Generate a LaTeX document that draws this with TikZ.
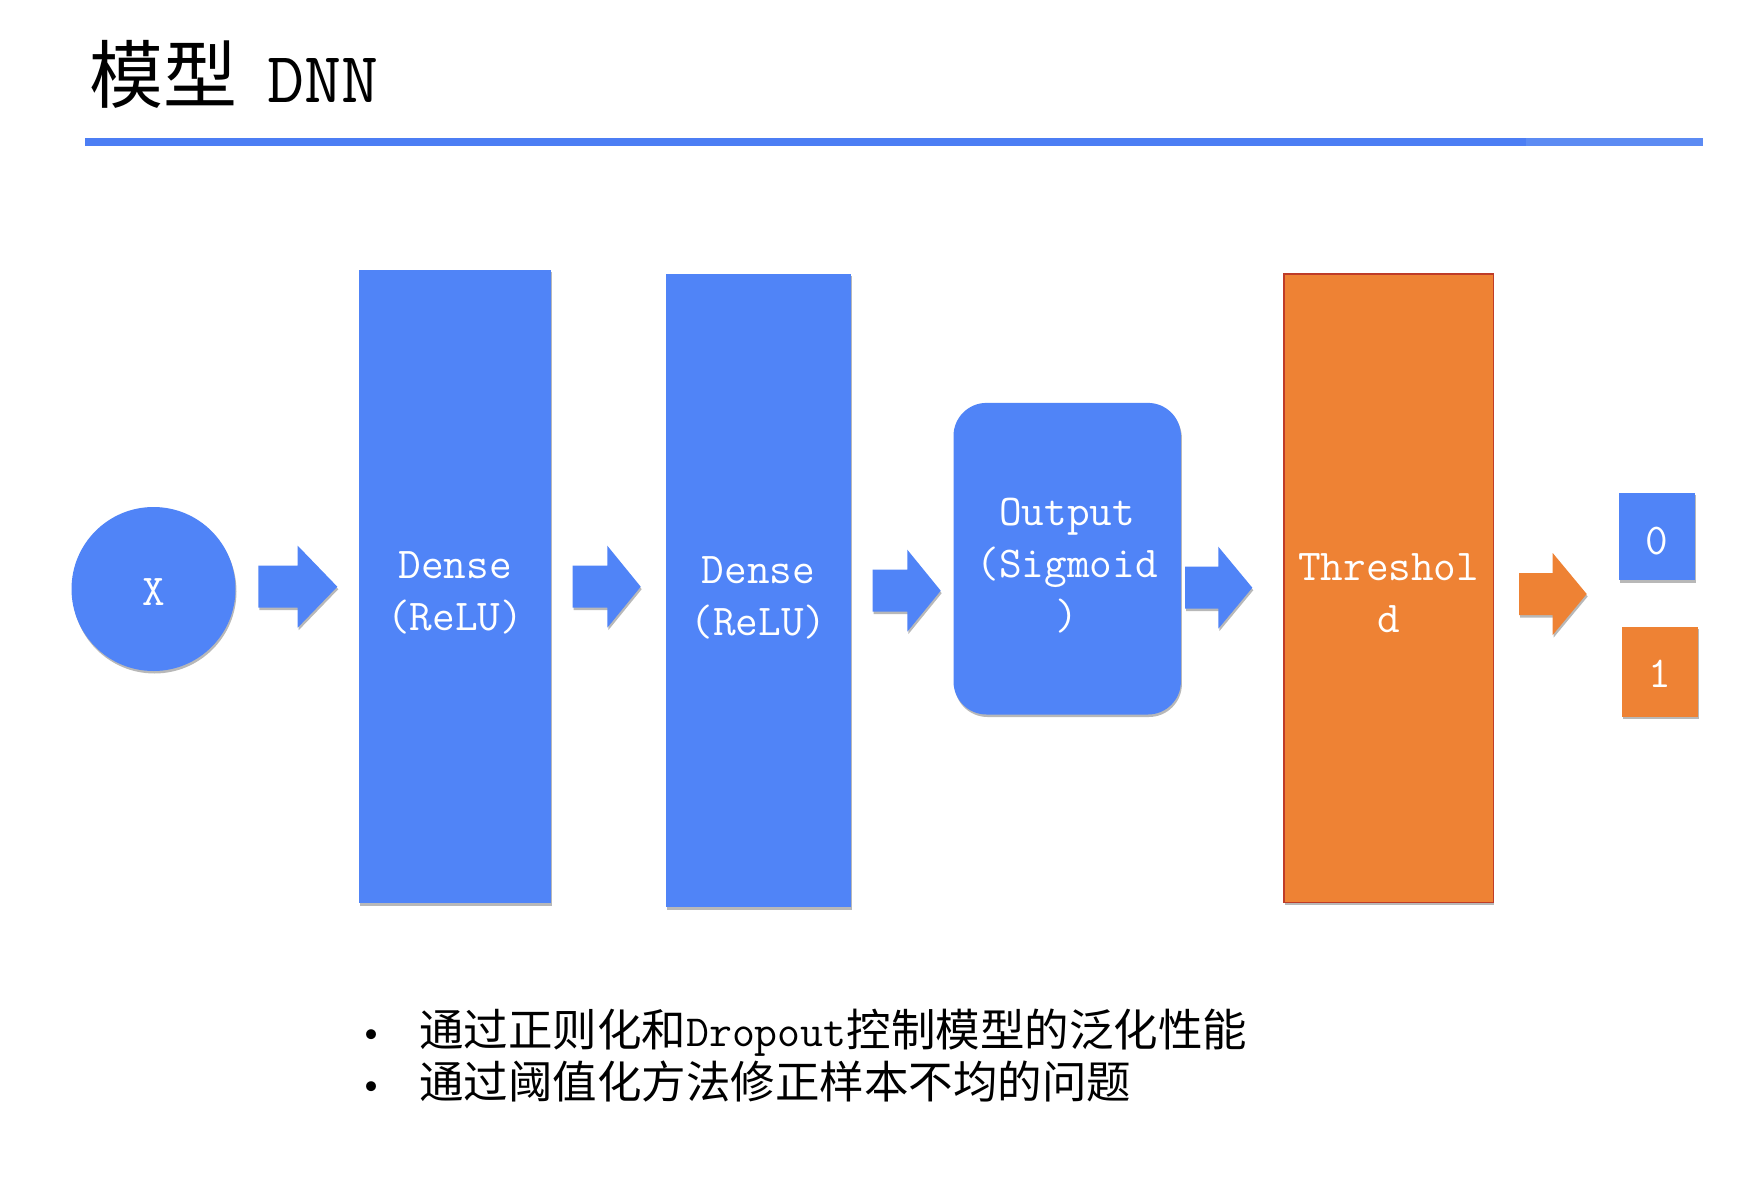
\documentclass[tikz,border=0pt]{standalone}
\usepackage{fontspec}
\newfontfamily\cjk{Noto Sans CJK SC}
\setmonofont{Latin Modern Mono}
\usetikzlibrary{shadows}
\definecolor{pblue}{RGB}{80,132,247}
\definecolor{porange}{RGB}{238,130,52}
\definecolor{pred}{RGB}{190,60,40}
\definecolor{lineblueA}{RGB}{76,126,244}
\definecolor{lineblueB}{RGB}{92,139,243}
\tikzset{
  shad/.style={drop shadow={shadow xshift=1pt,shadow yshift=-2.5pt,fill=black,opacity=0.28}},
  bluebox/.style={fill=pblue,draw=none,inner sep=0pt,shad},
  orangebox/.style={fill=porange,draw=none,inner sep=0pt,shad},
  boxtext/.style={text=white,font=\ttfamily\fontsize{44}{52}\selectfont,align=center,inner sep=0pt},
  bullettext/.style={anchor=base west,inner sep=0pt,font=\fontsize{44.5}{52}\selectfont}
}
\newcommand\blockarr[5]{\fill[#5,shad] (#1,#4-21) -- (#2,#4-21) -- (#2,#4-41) -- (#3,#4) -- (#2,#4+41) -- (#2,#4+21) -- (#1,#4+21) -- cycle;}
\begin{document}
\begin{tikzpicture}[x=1pt,y=-1pt]
\useasboundingbox[fill=white] (0,0) rectangle (1738,1180);
% title
\node[anchor=base west,inner sep=0pt] (title) at (89,103)
  {{\cjk\fontsize{74}{74}\selectfont 模型}\hspace{30pt}{\ttfamily\fontsize{72}{72}\selectfont DNN}};
\draw[line width=8pt,lineblueA] (85,141.7) -- (1526,141.7);
\draw[line width=8pt,lineblueB] (1526,141.7) -- (1703,141.7);
% nodes
\node[bluebox,circle,minimum size=164pt,
  label={[boxtext,yshift=-3pt]center:X}] (x) at (153.5,589) {};
\node[bluebox,anchor=north west,minimum width=191.7pt,minimum height=633.7pt,
  label={[boxtext,yshift=-7pt]center:{Dense\\(ReLU)}}] (d1) at (359,269.3) {};
\node[bluebox,anchor=north west,minimum width=185.7pt,minimum height=633.7pt,
  label={[boxtext,yshift=-8pt]center:{Dense\\(ReLU)}}] (d2) at (665.3,273.3) {};
\node[bluebox,anchor=north west,minimum width=227.4pt,minimum height=311.6pt,rounded corners=33pt,
  label={[boxtext,yshift=-6.5pt]center:{Output\\(Sigmoid\\)}}] (out) at (953.3,402.7) {};
\node[orangebox,draw=pred,line width=1.3pt,anchor=north west,minimum width=209.4pt,minimum height=628.7pt,
  label={[boxtext,yshift=-4.5pt]center:{Threshol\\d}}] (th) at (1283.3,273.3) {};
\node[bluebox,anchor=north west,minimum width=76pt,minimum height=87.7pt,
  label={[boxtext,yshift=-5pt]center:0}] (zero) at (1618.7,492.3) {};
\node[orangebox,anchor=north west,minimum width=75.7pt,minimum height=90pt,
  label={[boxtext,yshift=-2pt]center:1}] (one) at (1622,626.7) {};
% block arrows
\blockarr{258.3}{297.7}{337.3}{586.7}{pblue}
\blockarr{572.7}{607.3}{640.7}{586.7}{pblue}
\blockarr{872.7}{907.3}{940.7}{590.7}{pblue}
\blockarr{1185}{1218.3}{1252.3}{587.7}{pblue}
\blockarr{1519}{1552.7}{1586.7}{594}{porange}
% bullets
\node[bullettext] (b1) at (355,1046)
  {\makebox[64pt][l]{•}{\cjk 通过正则化和}{\ttfamily Dropout}{\cjk 控制模型的泛化性能}};
\node[bullettext] (b2) at (355,1098)
  {\makebox[64pt][l]{•}{\cjk 通过阈值化方法修正样本不均的问题}};
\end{tikzpicture}
\end{document}
